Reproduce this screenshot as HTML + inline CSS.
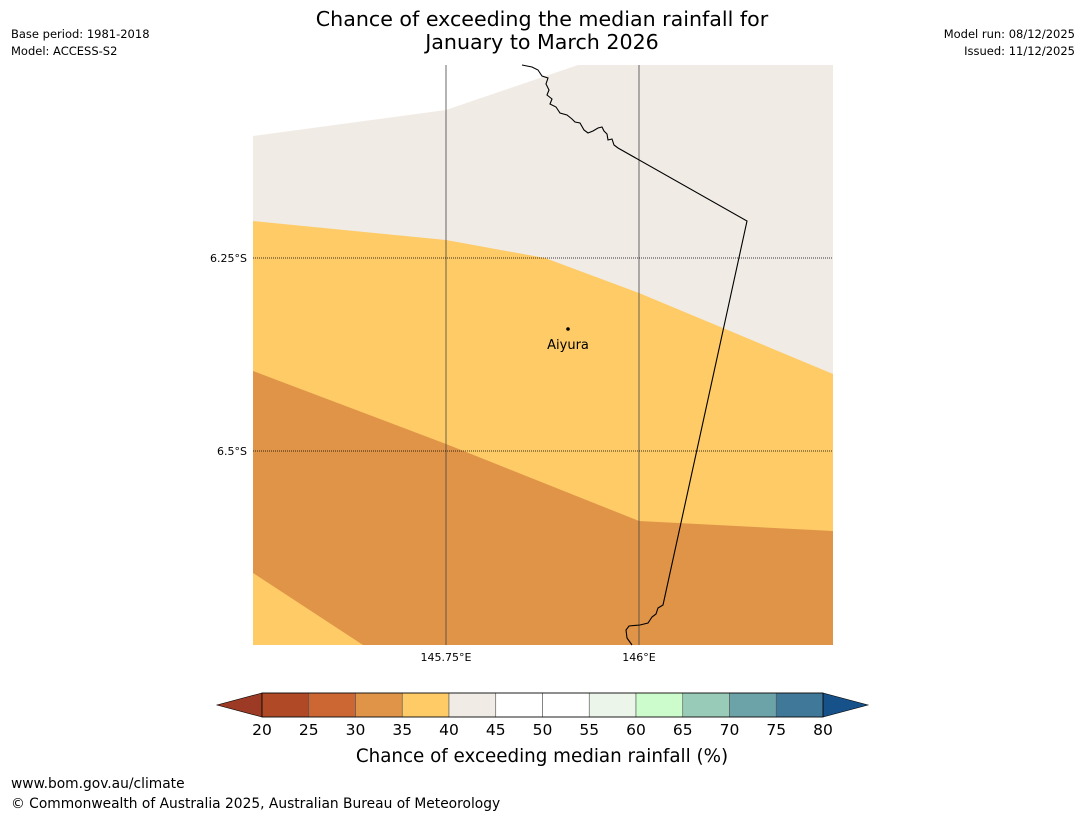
<!DOCTYPE html>
<html><head><meta charset="utf-8"><style>
body{margin:0;background:#fff;font-family:"Liberation Sans","DejaVu Sans",sans-serif}
svg text{font-family:"DejaVu Sans","Liberation Sans",sans-serif}
</style></head><body>
<svg width="1085" height="816" viewBox="0 0 1085 816" xmlns="http://www.w3.org/2000/svg">
<text x="542" y="26" font-size="20.6" text-anchor="middle">Chance of exceeding the median rainfall for</text>
<text x="542" y="49" font-size="20.6" text-anchor="middle">January to March 2026</text>
<text x="11" y="38" font-size="11.5">Base period: 1981-2018</text>
<text x="11" y="55" font-size="11.5">Model: ACCESS-S2</text>
<text x="1075" y="38" font-size="11.5" text-anchor="end">Model run: 08/12/2025</text>
<text x="1075" y="55" font-size="11.5" text-anchor="end">Issued: 11/12/2025</text>
<g>
<rect x="253" y="65" width="580" height="580" fill="#e09448"/>
<polygon points="253,65 833,65 833,531 639,521 446,444 253,371" fill="#fecb66"/>
<polygon points="253,573 363,645 253,645" fill="#fecb66"/>
<polygon points="253,65 833,65 833,374 639,293 545,258 446,240 253,221" fill="#f0ebe5"/>
<polygon points="253,65 578,65 446,110 253,136" fill="#ffffff"/>
<line x1="446" y1="65" x2="446" y2="645" stroke="#444" stroke-width="0.8"/>
<line x1="639" y1="65" x2="639" y2="645" stroke="#444" stroke-width="0.8"/>
<line x1="253" y1="258" x2="833" y2="258" stroke="#000" stroke-width="0.8" stroke-dasharray="1,1"/>
<line x1="253" y1="451" x2="833" y2="451" stroke="#000" stroke-width="0.8" stroke-dasharray="1,1"/>
<polyline fill="none" stroke="#000" stroke-width="1.1" points="522,65 532,67 538,70 542,76 548,78 546,84 549,90 547,95 552,99 550,104 556,107 560,113 567,115 572,119 575,122 580,123 584,130 588,133 593,131 598,128 602,127 604,131 607,134 608,140 612,139 614,145 618,148 747,221 663,605 658,608 656,614 652,617 648,623 640,625 629,626 626,630 627,638 632,645"/>
<circle cx="568" cy="329" r="1.8" fill="#000"/>
<text x="568" y="349" font-size="13" text-anchor="middle">Aiyura</text>
</g>
<text x="247" y="262" font-size="11" text-anchor="end">6.25°S</text>
<text x="247" y="455" font-size="11" text-anchor="end">6.5°S</text>
<text x="446" y="661" font-size="11" text-anchor="middle">145.75°E</text>
<text x="639" y="661" font-size="11" text-anchor="middle">146°E</text>
<g id="cbar"></g>
<text x="542" y="762" font-size="18.3" text-anchor="middle">Chance of exceeding median rainfall (%)</text>
<text x="11" y="788" font-size="13.8">www.bom.gov.au/climate</text>
<text x="11" y="808" font-size="13.8">© Commonwealth of Australia 2025, Australian Bureau of Meteorology</text>
</svg>
<script>
const binEdges=[20,25,30,35,40,45,50,55,60,65,70,75,80];
const binColors=["#b04a26","#cc6633","#e09448","#fecb66","#f0ebe5","#ffffff","#ffffff","#ebf5e9","#ccfccc","#99ccb8","#6ba3a8","#3f7898"];
const ns="http://www.w3.org/2000/svg";
const g=document.getElementById('cbar');
const x0=262,x1=823,y0=693,h=24;
const sx=v=>x0+(v-20)/(80-20)*(x1-x0);
function mk(t,a){const e=document.createElementNS(ns,t);for(const k in a)e.setAttribute(k,a[k]);g.appendChild(e);return e;}
const lt=mk('polygon',{points:`${x0},${y0} ${x0},${y0+h} 217,${y0+h/2}`,fill:'#9c3a25',stroke:'#000','stroke-width':0.6});


const rt=mk('polygon',{points:`${x1},${y0} ${x1},${y0+h} 868,${y0+h/2}`,fill:'#175189',stroke:'#000','stroke-width':0.6});


for(let i=0;i<binColors.length;i++){
 const r=mk('rect',{x:sx(binEdges[i]),y:y0,width:sx(binEdges[i+1])-sx(binEdges[i]),height:h,fill:binColors[i],stroke:'#555','stroke-width':0.6});
 
 
}
mk('rect',{x:x0,y:y0,width:x1-x0,height:h,fill:'none',stroke:'#000','stroke-width':0.8});
binEdges.forEach(v=>{
 const t=mk('text',{x:sx(v),y:735,'font-size':15.5,'text-anchor':'middle'});
 t.textContent=v;
 
 
});
</script>
</body></html>
